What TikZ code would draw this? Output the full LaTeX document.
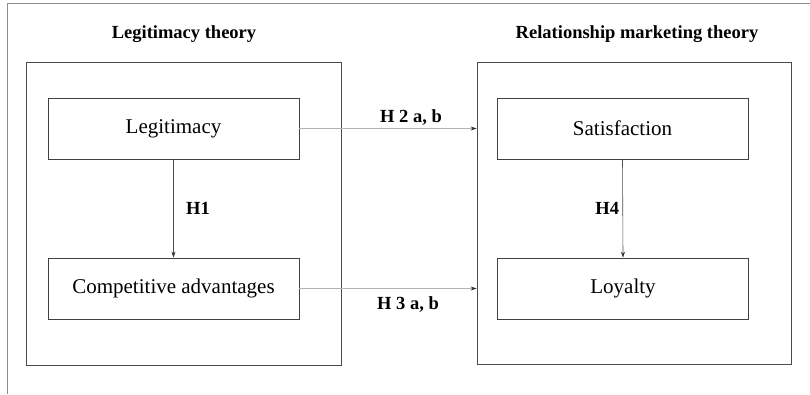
\documentclass[tikz,border=0pt]{standalone}
\usepackage{fontspec}
\setmainfont{Liberation Serif}
\usetikzlibrary{arrows.meta}
\begin{document}
\begin{tikzpicture}[x=1pt,y=-1pt,
  box/.style={draw=black!75,line width=0.8pt,minimum width=251pt,minimum height=61pt,inner sep=0pt,font=\fontsize{21}{25}\selectfont},
  frame/.style={draw=black!70,line width=0.9pt},
  title/.style={font=\fontsize{18.5}{22}\selectfont\bfseries},
  hlab/.style={font=\fontsize{18.5}{22}\selectfont\bfseries},
  lightarr/.style={draw=black!30,line width=0.6pt,-{Stealth[length=6pt,width=4pt,black!80]}},
  darkarr/.style={draw=black!70,line width=0.6pt,-{Stealth[length=6pt,width=4pt,black!80]}}]
\useasboundingbox (0,0) rectangle (810,394);
\draw[draw=black!45,line width=0.8pt] (810,3) -- (7,3) -- (7,394);
% outer boxes
\node[frame,minimum width=315pt,minimum height=303pt,inner sep=0pt] (L) at (183.5,213.5) {};
\node[frame,minimum width=314pt,minimum height=302pt,inner sep=0pt] (R) at (634,213) {};
\node[title] (Lt) at (184,34) {Legitimacy theory};
\node[title] (Rt) at (637,34) {Relationship marketing theory};
% inner boxes
\node[box] (leg) at (173.5,128.5) {Legitimacy};
\node[box] (comp) at (173.5,288.5) {Competitive advantages};
\node[box] (sat) at (622.5,128.5) {Satisfaction};
\node[box] (loy) at (623,288.5) {Loyalty};
% connectors
\draw[darkarr] (leg.south) -- (comp.north) node[midway,right=9pt,hlab] (h1) {H1};
\draw[darkarr] (sat.south) -- (loy.north) node[midway,left=0pt,hlab] (h4) {H4};
\draw[lightarr] (leg.east) -- (leg.east -| R.west) coordinate (e2);
\draw[lightarr] (comp.east) -- (comp.east -| R.west) coordinate (e3);
\node[hlab] (h2) at (411,118) {H 2 a, b};
\node[hlab] (h3) at (408,305) {H 3 a, b};
\end{tikzpicture}
\end{document}
